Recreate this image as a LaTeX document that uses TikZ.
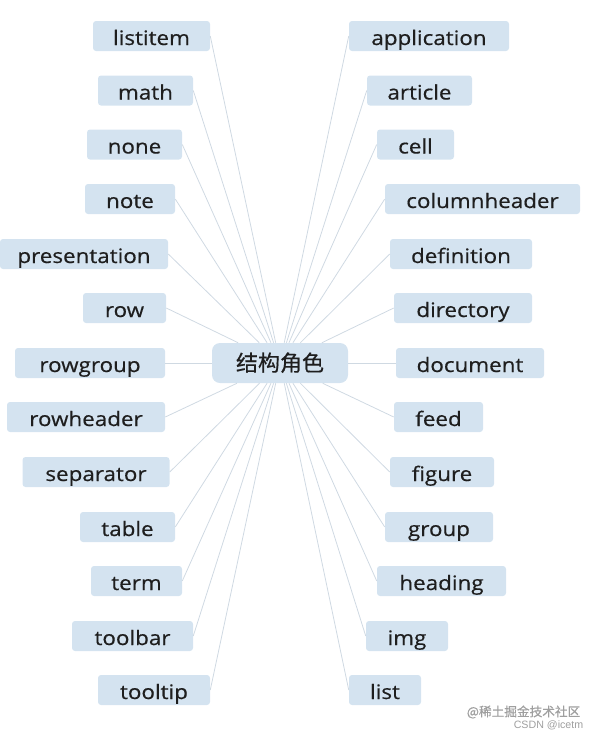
\documentclass[tikz,border=0pt]{standalone}
\usepackage{fontspec}
\setmainfont{Open Sans}[FakeStretch=1.12,FakeBold=0.5]
\newfontfamily\cjk{Noto Sans CJK SC}[FakeBold=0.4]
\newfontfamily\wmfont{Liberation Sans}
\definecolor{boxblue}{HTML}{D4E3F0}
\definecolor{linkgray}{HTML}{CFD9E2}
\definecolor{txtdark}{HTML}{1E1E1E}

\begin{document}
\begin{tikzpicture}[x=0.75pt,y=-0.75pt,
leaf/.style={fill=boxblue,rounded corners=2.25pt,minimum height=22.5pt,
  inner sep=0pt,text height=14.25pt,text depth=0.75pt,minimum width=#1*0.75pt},
hub/.style={fill=boxblue,rounded corners=6pt,minimum width=102pt,
  minimum height=30pt,inner sep=0pt,text height=13.5pt,text depth=1.5pt,
  font=\cjk\fontsize{16.5}{18}\selectfont},
link/.style={draw=linkgray,line width=0.6pt}]
\tikzstyle{every node}=[text=txtdark,font=\fontsize{15}{18}\selectfont]
\useasboundingbox (0,0) rectangle (604,739);

    \node (Hub) [hub] at (280,363) {结构角色};

    % left side
    \node (listitem)     [leaf=117] at (151.5,36)  {listitem};
    \node (math)         [leaf=95]  at (145.5,90.5) {math};
    \node (none)         [leaf=95]  at (134.5,144.5) {none};
    \node (note)         [leaf=90]  at (130,199)   {note};
    \node (presentation) [leaf=168] at (84,254)    {presentation};
    \node (row)          [leaf=83]  at (124.5,308) {row};
    \node (rowgroup)     [leaf=150] at (90,363)    {rowgroup};
    \node (rowheader)    [leaf=158] at (86,417)    {rowheader};
    \node (separator)    [leaf=147] at (96,472)    {separator};
    \node (table)        [leaf=95]  at (127.5,527) {table};
    \node (term)         [leaf=91]  at (136.5,581) {term};
    \node (toolbar)      [leaf=121] at (132.5,636) {toolbar};
    \node (tooltip)      [leaf=112] at (154,690)   {tooltip};

    % right side
    \node (application)  [leaf=160] at (429,36)    {application};
    \node (article)      [leaf=105] at (419.5,90.5) {article};
    \node (cell)         [leaf=77]  at (415.5,144.5) {cell};
    \node (columnheader) [leaf=195] at (482.5,199) {columnheader};
    \node (definition)   [leaf=142] at (461,254)   {definition};
    \node (directory)    [leaf=138] at (463,308)   {directory};
    \node (document)     [leaf=148] at (470,363)   {document};
    \node (feed)         [leaf=89]  at (438.5,417) {feed};
    \node (figure)       [leaf=104] at (442,472)   {figure};
    \node (group)        [leaf=108] at (439,527)   {group};
    \node (heading)      [leaf=129] at (441.5,581) {heading};
    \node (img)          [leaf=82]  at (407,636)   {img};
    \node (list)         [leaf=72]  at (385,690)   {list};

    % links to the hub
    \draw[link] (Hub) -- (listitem.east);  \draw[link] (Hub) -- (math.east);
    \draw[link] (Hub) -- (none.east);      \draw[link] (Hub) -- (note.east);
    \draw[link] (Hub) -- (presentation.east); \draw[link] (Hub) -- (row.east);
    \draw[link] (Hub) -- (rowgroup.east);  \draw[link] (Hub) -- (rowheader.east);
    \draw[link] (Hub) -- (separator.east); \draw[link] (Hub) -- (table.east);
    \draw[link] (Hub) -- (term.east);      \draw[link] (Hub) -- (toolbar.east);
    \draw[link] (Hub) -- (tooltip.east);
    \draw[link] (Hub) -- (application.west); \draw[link] (Hub) -- (article.west);
    \draw[link] (Hub) -- (cell.west);      \draw[link] (Hub) -- (columnheader.west);
    \draw[link] (Hub) -- (definition.west); \draw[link] (Hub) -- (directory.west);
    \draw[link] (Hub) -- (document.west);  \draw[link] (Hub) -- (feed.west);
    \draw[link] (Hub) -- (figure.west);    \draw[link] (Hub) -- (group.west);
    \draw[link] (Hub) -- (heading.west);   \draw[link] (Hub) -- (img.west);
    \draw[link] (Hub) -- (list.west);

    % watermark
    \node (juejin) [anchor=east,text=gray!75,font=\cjk\fontsize{9.5}{10}\selectfont]
      at (585,712) {@稀土掘金技术社区};
    \node (csdn) [anchor=east,text=gray!75,font=\wmfont\fontsize{8}{9}\selectfont]
      at (588,725) {CSDN @icetm};

\end{tikzpicture}
\end{document}
